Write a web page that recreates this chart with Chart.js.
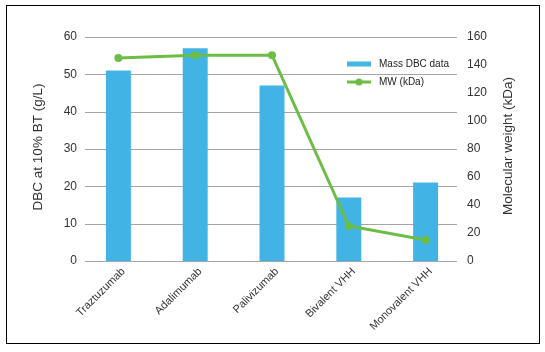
<!DOCTYPE html>
<html>
<head>
<meta charset="utf-8">
<script src="https://cdn.jsdelivr.net/npm/chart.js@4.4.0/dist/chart.umd.min.js"></script>
<style>
  html, body { margin: 0; padding: 0; background: #fff; }
  #wrap { position: relative; width: 545px; height: 352px; }
  #frame { position: absolute; left: 6px; top: 5px; width: 532px; height: 337px; border: 1px solid #000; pointer-events: none; }
  canvas { position: absolute; left: 0; top: 0; }
</style>
</head>
<body>
<div id="wrap">
  <canvas id="c" width="545" height="352"></canvas>
  <div id="frame"></div>
</div>
<script>
const categories = ['Traztuzumab', 'Adalimumab', 'Palivizumab', 'Bivalent VHH', 'Monovalent VHH'];
const dbcValues = [51, 57, 47, 17, 21];
const mwValues = [145, 147, 147, 25, 15];
const leftTicks = [0, 10, 20, 30, 40, 50, 60];
const rightTicks = [0, 20, 40, 60, 80, 100, 120, 140, 160];
const seriesNames = ['Mass DBC data', 'MW (kDa)'];
const axisTitles = ['DBC at 10% BT (g/L)', 'Molecular weight (kDa)'];

const BLUE = '#41b4e5';
const GREEN = '#6cbd45';
const FONT = 'Liberation Sans, Arial, sans-serif';

const gridPlugin = {
  id: 'gridPlugin',
  beforeDatasetsDraw(chart) {
    const {ctx, chartArea} = chart;
    const y = chart.scales.y;
    ctx.save();
    ctx.strokeStyle = '#a6a6a6';
    ctx.lineWidth = 1;
    leftTicks.forEach(v => {
      const py = Math.round(y.getPixelForValue(v)) + 0.5;
      ctx.beginPath();
      ctx.moveTo(chartArea.left + 5, py);
      ctx.lineTo(chartArea.right - 7, py);
      ctx.stroke();
    });
    ctx.restore();
  }
};

const decorPlugin = {
  id: 'decorPlugin',
  afterDraw(chart) {
    const {ctx, chartArea} = chart;
    const midY = (chartArea.top + chartArea.bottom) / 2;
    ctx.save();
    ctx.fillStyle = '#333';
    ctx.font = '13.5px ' + FONT;
    ctx.textAlign = 'center';
    ctx.textBaseline = 'middle';
    ctx.save();
    ctx.translate(38, midY - 2);
    ctx.rotate(-Math.PI / 2);
    ctx.fillText(axisTitles[0], 0, 0);
    ctx.restore();
    ctx.save();
    ctx.translate(508, midY - 3);
    ctx.rotate(-Math.PI / 2);
    ctx.fillText(axisTitles[1], 0, 0);
    ctx.restore();

    const lx = 347, ly1 = 64, ly2 = 82;
    ctx.fillStyle = BLUE;
    ctx.fillRect(lx, ly1 - 2.5, 24, 5);
    ctx.strokeStyle = GREEN;
    ctx.lineWidth = 3;
    ctx.beginPath();
    ctx.moveTo(lx, ly2);
    ctx.lineTo(lx + 24, ly2);
    ctx.stroke();
    ctx.fillStyle = GREEN;
    ctx.beginPath();
    ctx.arc(lx + 12, ly2, 3.5, 0, Math.PI * 2);
    ctx.fill();
    ctx.fillStyle = '#222';
    ctx.font = '10px ' + FONT;
    ctx.textAlign = 'left';
    ctx.fillText(seriesNames[0], 379, ly1);
    ctx.fillText(seriesNames[1], 379, ly2);
    ctx.restore();
  }
};

new Chart(document.getElementById('c'), {
  data: {
    labels: categories,
    datasets: [
      {
        type: 'line',
        label: seriesNames[1],
        data: mwValues,
        yAxisID: 'y1',
        borderColor: GREEN,
        backgroundColor: GREEN,
        borderWidth: 3,
        pointRadius: 4,
        pointBackgroundColor: GREEN,
        pointBorderWidth: 0,
        tension: 0,
        order: 0
      },
      {
        type: 'bar',
        label: seriesNames[0],
        data: dbcValues,
        yAxisID: 'y',
        backgroundColor: BLUE,
        borderWidth: 0,
        categoryPercentage: 1,
        barPercentage: 0.325,
        order: 1
      }
    ]
  },
  options: {
    responsive: false,
    animation: false,
    layout: { padding: { top: 37, left: 0, right: 0, bottom: 0 } },
    plugins: { legend: { display: false }, tooltip: { enabled: false } },
    scales: {
      x: {
        offset: true,
        grid: { display: false, drawTicks: false },
        border: { display: false },
        ticks: {
          minRotation: 45, maxRotation: 45, autoSkip: false,
          color: '#333', padding: 4, labelOffset: 5,
          font: { family: FONT, size: 11 }
        },
        afterFit(s) { s.height = 91; }
      },
      y: {
        position: 'left',
        min: 0, max: 60,
        grid: { display: false, drawTicks: false },
        border: { display: false },
        ticks: {
          stepSize: 10, padding: 3, color: '#333',
          font: { family: FONT, size: 12 }
        },
        afterFit(s) { s.width = 80; }
      },
      y1: {
        position: 'right',
        min: 0, max: 160,
        grid: { display: false, drawTicks: false },
        border: { display: false },
        ticks: {
          stepSize: 20, padding: 3, color: '#333',
          font: { family: FONT, size: 12 }
        },
        afterFit(s) { s.width = 81; }
      }
    }
  },
  plugins: [gridPlugin, decorPlugin]
});
</script>
</body>
</html>
